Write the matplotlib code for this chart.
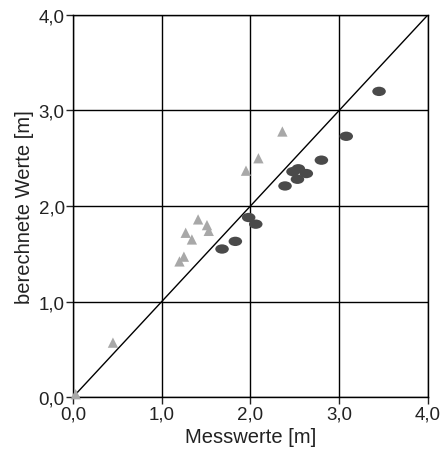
import matplotlib
matplotlib.use("Agg")
import matplotlib.pyplot as plt
from matplotlib.path import Path
from matplotlib.transforms import Affine2D
from matplotlib.ticker import FuncFormatter

plt.rcParams["font.family"] = ["Liberation Sans", "DejaVu Sans"]

# measured vs computed values [m]
circle_x = [1.68, 1.83, 1.98, 2.06, 2.39, 2.48, 2.54, 2.53, 2.63, 2.80, 3.08, 3.45]
circle_y = [1.55, 1.63, 1.88, 1.81, 2.21, 2.36, 2.39, 2.28, 2.34, 2.48, 2.73, 3.20]
triangle_x = [0.03, 0.45, 1.20, 1.25, 1.27, 1.34, 1.41, 1.51, 1.53, 1.95, 2.09, 2.36]
triangle_y = [0.03, 0.57, 1.42, 1.47, 1.72, 1.65, 1.86, 1.80, 1.74, 2.37, 2.50, 2.78]
ticks = [0.0, 1.0, 2.0, 3.0, 4.0]

# flattened circle marker
c = Path.unit_circle()
ellipse = Path(Affine2D().scale(1.45, 1.0).transform(c.vertices), c.codes)

fig = plt.figure(figsize=(4.48, 4.56), dpi=100)
ax = fig.add_axes([0.163, 0.127, 0.792, 0.838])

ax.plot([0, 4], [0, 4], color="black", lw=1.0, zorder=2)
ax.scatter(triangle_x, triangle_y, marker="^", s=55, color="#a8a8a8",
           edgecolors="none", zorder=3, clip_on=False)
ax.scatter(circle_x, circle_y, marker=ellipse, s=95, color="#4a4a4a",
           edgecolors="none", zorder=4)

ax.set_xlim(0, 4)
ax.set_ylim(0, 4)
ax.set_xticks(ticks)
ax.set_yticks(ticks)
fmt = FuncFormatter(lambda v, p: f"{v:.1f}".replace(".", ","))
ax.xaxis.set_major_formatter(fmt)
ax.yaxis.set_major_formatter(fmt)
ax.grid(True, color="black", lw=1.0)
ax.set_axisbelow(True)
ax.tick_params(direction="out", length=5, width=1, labelsize=13.5, pad=1, colors="#222222")
for s in ax.spines.values():
    s.set_linewidth(1.0)

ax.set_xlabel("Messwerte [m]", fontsize=14.5, labelpad=3, color="#222222")
ax.set_ylabel("berechnete Werte [m]", fontsize=14.5, labelpad=3, color="#222222")

fig.savefig("out.png", dpi=100)
